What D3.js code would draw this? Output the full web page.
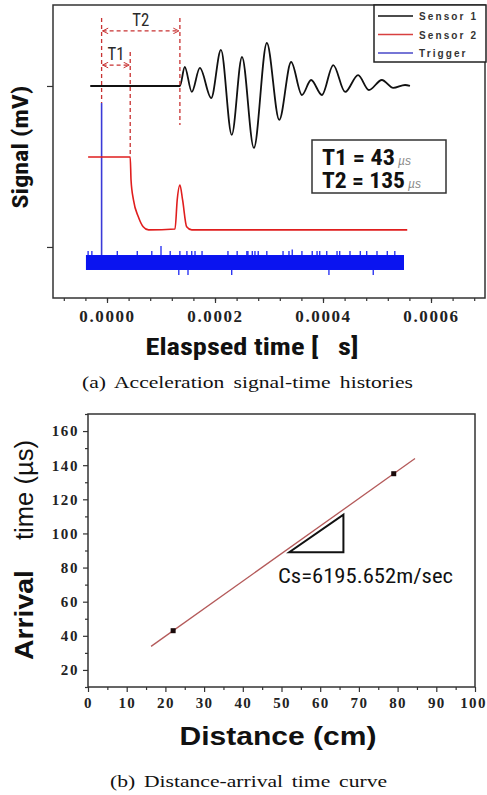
<!DOCTYPE html>
<html>
<head>
<meta charset="utf-8">
<script src="https://cdn.jsdelivr.net/npm/d3@7"></script>
<style>
  body { margin: 0; background: #fff; }
  svg { display: block; }
</style>
</head>
<body>
<div id="chart"></div>
<script>
// ---- (a) signal-time histories, time in µs, signal in plot units (ticks at 0 and 100) ----
var sensor1_t = [-31, 135, 144, 157, 172, 193, 211, 231, 250, 272, 296, 319, 341, 361, 378, 398, 419, 441, 465, 485, 509, 530, 552, 561];
var sensor1_v = [100, 100, 111.8, 96.3, 111.2, 92.5, 122.4, 69.6, 118, 61.5, 126.7, 78.9, 114.9, 94.4, 103.7, 94.4, 113, 96.3, 106.8, 97.5, 103.7, 98.8, 100.6, 100];

var sensor2_t = [-35, 43, 44.5, 49, 58, 67, 77, 126, 130, 135, 140, 147.5, 157, 556];
var sensor2_v = [55.9, 55.9, 41.6, 29.2, 18.8, 12.6, 10.6, 11.2, 29.2, 38.5, 29.2, 12.6, 10.6, 10.6];

var trigger_time = -10;
var trigger_peak = 89.4;
var trigger_band_t = [-39, 550];
var trigger_band_v = [-5, -14.3];
var trigger_up_t = [-35, -28, 19, 56, 83, 100, 117, 135, 148, 157, 163, 176, 224, 241, 259, 261, 269, 274, 280, 296, 326, 337, 343, 361, 380, 389, 394, 407, 426, 431, 450, 469, 481, 500, 519, 533];
var trigger_up_v = [-2.5, -2.5, -2.5, -2.5, -2.5, 0.6, -2.5, -2.5, -2.5, -2.5, -2.5, -2.5, -2.5, -2.5, -2.5, -2.5, -2.5, -2.5, -2.5, -2.5, -2.5, -2.5, -1.5, -2.5, -2.5, -2.5, -2.5, -2.5, -2.5, -2.5, -2.5, -2.5, -2.5, -2.5, -2.5, -2.5];
var trigger_down_t = [133, 150, 231, 411, 493];
var trigger_down_v = [-17.4, -17.4, -17.4, -17.4, -17.4];

var time_ticks = [0, 200, 400, 600];
var time_minor = d3.range(-80, 700, 40);
var signal_ticks = [0, 100];

var legend_names = ["Sensor 1", "Sensor 2", "Trigger"];
var legend_colors = ["#111111", "#d84040", "#4848c8"];

// ---- (b) distance-arrival time ----
var distance = [22, 79];
var arrival = [43, 135];
var fit_range = [16.3, 84.5];
var dist_ticks = d3.range(0, 101, 10);
var dist_minor = d3.range(5, 100, 10);
var arr_ticks = d3.range(20, 161, 20);
var arr_minor = d3.range(10, 171, 20);

var narrow = "'Liberation Sans Narrow', 'Arial Narrow', 'Roboto Condensed', 'Liberation Sans', Arial, sans-serif";
var serif = "'Liberation Serif', 'Times New Roman', serif";

var width = 487, height = 795;
var svg = d3.select("#chart").append("svg")
  .attr("width", width)
  .attr("height", height)
  .style("font-family", "'Liberation Sans', Arial, sans-serif");

var defs = svg.append("defs");
defs.append("marker")
  .attr("id", "chev")
  .attr("viewBox", "0 0 10 10")
  .attr("refX", 9).attr("refY", 5)
  .attr("markerWidth", 7).attr("markerHeight", 7)
  .attr("markerUnits", "userSpaceOnUse")
  .attr("orient", "auto-start-reverse")
  .append("path")
    .attr("d", "M1,1 L9,5 L1,9")
    .attr("fill", "none")
    .attr("stroke", "#c83232")
    .attr("stroke-width", 1.4);

// caption in a wide serif: stretch glyphs, then spread words to the scanned width
function caption(txt, cx, y, target){
  var sx = 1.27;
  var t = svg.append("g")
    .attr("transform", "translate(" + cx + "," + y + ") scale(" + sx + ",1)")
    .append("text")
      .attr("text-anchor", "middle")
      .attr("fill", "#111")
      .style("font-family", serif)
      .style("font-size", "17px")
      .text(txt);
  var natural = t.node().getComputedTextLength();
  var gaps = txt.split(" ").length - 1;
  t.style("word-spacing", ((target / sx - natural) / gaps) + "px");
}

// ======================= chart (a) =======================
var xa = d3.scaleLinear().domain([-100, 700]).range([53, 485]);
var ya = d3.scaleLinear().domain([-31.7, 150.3]).range([298, 5]);

var ga = svg.append("g");

ga.append("g")
  .attr("transform", "translate(0,298)")
  .call(d3.axisBottom(xa).tickValues(time_minor).tickSize(3).tickFormat(""))
  .call(function(g){ g.select(".domain").remove(); g.selectAll("line").attr("stroke", "#333").attr("stroke-width", 1.2); });

var xa_axis = ga.append("g")
  .attr("transform", "translate(0,298)")
  .call(d3.axisBottom(xa).tickValues(time_ticks).tickSize(5)
    .tickFormat(function(d){ return (d * 1e-6).toFixed(4); }));
xa_axis.select(".domain").remove();
xa_axis.selectAll("line").attr("stroke", "#333").attr("stroke-width", 1.2);
xa_axis.selectAll("text")
  .attr("y", 24).attr("dy", null)
  .attr("fill", "#222")
  .style("font-family", serif)
  .style("font-weight", "bold")
  .style("font-size", "17px")
  .style("letter-spacing", "1.6px");

var ya_axis = ga.append("g")
  .attr("transform", "translate(53,0)")
  .call(d3.axisLeft(ya).tickValues(signal_ticks).tickSize(6).tickFormat(""));
ya_axis.select(".domain").remove();
ya_axis.selectAll("line").attr("stroke", "#333").attr("stroke-width", 1.2);

// trigger (blue)
ga.append("rect")
  .attr("x", xa(trigger_band_t[0]))
  .attr("y", ya(trigger_band_v[0]))
  .attr("width", xa(trigger_band_t[1]) - xa(trigger_band_t[0]))
  .attr("height", ya(trigger_band_v[1]) - ya(trigger_band_v[0]))
  .attr("fill", "#0a14f0");
ga.append("g").selectAll("line")
  .data(d3.zip(trigger_up_t, trigger_up_v))
  .join("line")
    .attr("x1", function(d){ return xa(d[0]); })
    .attr("x2", function(d){ return xa(d[0]); })
    .attr("y1", ya(trigger_band_v[0]))
    .attr("y2", function(d){ return ya(d[1]); })
    .attr("stroke", "#0a14f0").attr("stroke-width", 1.2);
ga.append("g").selectAll("line")
  .data(d3.zip(trigger_down_t, trigger_down_v))
  .join("line")
    .attr("x1", function(d){ return xa(d[0]); })
    .attr("x2", function(d){ return xa(d[0]); })
    .attr("y1", ya(trigger_band_v[1]))
    .attr("y2", function(d){ return ya(d[1]); })
    .attr("stroke", "#0a14f0").attr("stroke-width", 1.2);
ga.append("line")
  .attr("x1", xa(trigger_time)).attr("x2", xa(trigger_time))
  .attr("y1", ya(trigger_band_v[0])).attr("y2", ya(trigger_peak))
  .attr("stroke", "#3a3ad8").attr("stroke-width", 1.6);

var line_a = d3.line()
  .x(function(d){ return xa(d[0]); })
  .y(function(d){ return ya(d[1]); })
  .curve(d3.curveMonotoneX);

ga.append("path")
  .datum(d3.zip(sensor2_t, sensor2_v))
  .attr("d", line_a)
  .attr("fill", "none")
  .attr("stroke", "#e01e1e")
  .attr("stroke-width", 1.6);

ga.append("path")
  .datum(d3.zip(sensor1_t, sensor1_v))
  .attr("d", line_a)
  .attr("fill", "none")
  .attr("stroke", "#111")
  .attr("stroke-width", 1.8);

// T1 / T2 annotation
var dash = "4,3";
var marks = [[trigger_time, 142.2, 89.4], [43, 121.1, 55.9], [135, 142.2, 75.8]];
ga.append("g").selectAll("line")
  .data(marks)
  .join("line")
    .attr("x1", function(d){ return xa(d[0]); })
    .attr("x2", function(d){ return xa(d[0]); })
    .attr("y1", function(d){ return ya(d[1]); })
    .attr("y2", function(d){ return ya(d[2]); })
    .attr("stroke", "#c83232").attr("stroke-width", 1.3)
    .attr("stroke-dasharray", dash);

var arrows = [["T2", trigger_time, 135, 134.2], ["T1", trigger_time, 43, 113]];
arrows.forEach(function(a){
  ga.append("line")
    .attr("x1", xa(a[1]) + 1).attr("x2", xa(a[2]) - 1)
    .attr("y1", ya(a[3])).attr("y2", ya(a[3]))
    .attr("stroke", "#c83232").attr("stroke-width", 1.3)
    .attr("stroke-dasharray", dash)
    .attr("marker-start", "url(#chev)")
    .attr("marker-end", "url(#chev)");
  ga.append("text")
    .attr("x", xa((a[1] + a[2]) / 2))
    .attr("y", ya(a[3]) - 5)
    .attr("text-anchor", "middle")
    .attr("textLength", 17).attr("lengthAdjust", "spacingAndGlyphs")
    .attr("fill", "#2a2a2a")
    .style("font-family", narrow)
    .style("font-size", "19px")
    .text(a[0]);
});

// frame
ga.append("rect")
  .attr("x", 53).attr("y", 5)
  .attr("width", 485 - 53).attr("height", 298 - 5)
  .attr("fill", "none").attr("stroke", "#333").attr("stroke-width", 1.5);

// legend
var lg = ga.append("g");
lg.append("rect")
  .attr("x", 374).attr("y", 5).attr("width", 112).attr("height", 57)
  .attr("fill", "#fff").attr("stroke", "#222").attr("stroke-width", 1.5);
legend_names.forEach(function(n, i){
  var yy = 16 + i * 18.5;
  lg.append("line")
    .attr("x1", 378).attr("x2", 413).attr("y1", yy).attr("y2", yy)
    .attr("stroke", legend_colors[i]).attr("stroke-width", 1.5);
  lg.append("text")
    .attr("x", 419).attr("y", yy + 4)
    .attr("fill", "#333")
    .style("font-size", "10px")
    .style("font-weight", "bold")
    .style("letter-spacing", "2.1px")
    .text(n);
});

// T box
var tb = ga.append("g");
tb.append("rect")
  .attr("x", 312).attr("y", 140).attr("width", 134).attr("height", 53)
  .attr("fill", "#fff").attr("stroke", "#333").attr("stroke-width", 1.5);
[["T1 = 43", 165, 73], ["T2 = 135", 188, 83]].forEach(function(r){
  tb.append("text")
    .attr("x", 322).attr("y", r[1])
    .attr("textLength", r[2]).attr("lengthAdjust", "spacingAndGlyphs")
    .attr("fill", "#111")
    .style("font-family", narrow)
    .style("font-size", "22px")
    .style("font-weight", "bold")
    .text(r[0]);
  tb.append("text")
    .attr("x", 322 + r[2] + 3).attr("y", r[1])
    .attr("fill", "#8a8a8a")
    .style("font-size", "12px")
    .style("font-style", "italic")
    .text("µs");
});

// axis titles (a)
ga.append("text")
  .attr("x", 252).attr("y", 355)
  .attr("text-anchor", "middle")
  .attr("textLength", 213).attr("lengthAdjust", "spacingAndGlyphs")
  .attr("fill", "#111")
  .style("white-space", "pre")
  .style("font-family", narrow)
  .style("font-size", "23px")
  .style("font-weight", "bold")
  .text("Elaspsed time [   s]");

ga.append("text")
  .attr("transform", "translate(28,147) rotate(-90)")
  .attr("text-anchor", "middle")
  .attr("textLength", 123).attr("lengthAdjust", "spacingAndGlyphs")
  .attr("fill", "#111")
  .style("font-family", narrow)
  .style("font-size", "22px")
  .style("font-weight", "bold")
  .text("Signal (mV)");

caption("(a) Acceleration signal-time histories", 247.5, 388, 331);

// ======================= chart (b) =======================
var xb = d3.scaleLinear().domain([0, 100]).range([88, 475]);
var yb = d3.scaleLinear().domain([10, 170]).range([687, 414]);
var gb = svg.append("g");

function style_axis(g){
  g.select(".domain").remove();
  g.selectAll("line").attr("stroke", "#333").attr("stroke-width", 1.2);
}

gb.append("g")
  .attr("transform", "translate(0,687)")
  .call(d3.axisBottom(xb).tickValues(dist_minor).tickSize(3).tickFormat(""))
  .call(style_axis);
var xb_axis = gb.append("g")
  .attr("transform", "translate(0,687)")
  .call(d3.axisBottom(xb).tickValues(dist_ticks).tickSize(5).tickFormat(d3.format("d")))
  .call(style_axis);
xb_axis.selectAll("text")
  .attr("y", 21).attr("dy", null)
  .attr("x", function(d){ return d === 100 ? -2 : 0; })
  .attr("fill", "#222")
  .style("font-family", serif)
  .style("font-weight", "bold")
  .style("font-size", "15px")
  .style("letter-spacing", "1.3px");

gb.append("g")
  .attr("transform", "translate(88,0)")
  .call(d3.axisLeft(yb).tickValues(arr_minor).tickSize(3).tickFormat(""))
  .call(style_axis);
var yb_axis = gb.append("g")
  .attr("transform", "translate(88,0)")
  .call(d3.axisLeft(yb).tickValues(arr_ticks).tickSize(5).tickFormat(d3.format("d")))
  .call(style_axis);
yb_axis.selectAll("text")
  .attr("x", -9)
  .attr("fill", "#222")
  .style("font-family", serif)
  .style("font-weight", "bold")
  .style("font-size", "15px")
  .style("letter-spacing", "1.6px");

// fit line through the two measured points
var slope = (arrival[1] - arrival[0]) / (distance[1] - distance[0]);
var fit = fit_range.map(function(d){ return [d, arrival[0] + slope * (d - distance[0])]; });
gb.append("path")
  .datum(fit)
  .attr("d", d3.line().x(function(d){ return xb(d[0]); }).y(function(d){ return yb(d[1]); }))
  .attr("stroke", "#b45a5a")
  .attr("stroke-width", 1.3)
  .attr("fill", "none");

gb.selectAll(".pt")
  .data(d3.zip(distance, arrival))
  .join("rect")
    .attr("class", "pt")
    .attr("x", function(d){ return xb(d[0]) - 2.5; })
    .attr("y", function(d){ return yb(d[1]) - 2.5; })
    .attr("width", 5).attr("height", 5)
    .attr("fill", "#1a0a0a");

// slope triangle
var tri = [[52, 89], [66, 89], [66, 111]];
gb.append("path")
  .attr("d", "M" + tri.map(function(d){ return xb(d[0]) + "," + yb(d[1]); }).join("L") + "Z")
  .attr("fill", "none")
  .attr("stroke", "#111")
  .attr("stroke-width", 2);

gb.append("text")
  .attr("x", 278).attr("y", 583)
  .attr("textLength", 175).attr("lengthAdjust", "spacingAndGlyphs")
  .attr("fill", "#111")
  .style("font-family", narrow)
  .style("font-size", "21px")
  .text("Cs=6195.652m/sec");

gb.append("rect")
  .attr("x", 88).attr("y", 414)
  .attr("width", 475 - 88).attr("height", 687 - 414)
  .attr("fill", "none").attr("stroke", "#333").attr("stroke-width", 1.5);

gb.append("text")
  .attr("x", 278).attr("y", 745)
  .attr("text-anchor", "middle")
  .attr("textLength", 197).attr("lengthAdjust", "spacingAndGlyphs")
  .attr("fill", "#111")
  .style("font-size", "25px")
  .style("font-weight", "bold")
  .text("Distance (cm)");

gb.append("text")
  .attr("transform", "translate(33,660) rotate(-90)")
  .attr("textLength", 90).attr("lengthAdjust", "spacingAndGlyphs")
  .attr("fill", "#111")
  .style("font-size", "25px")
  .style("font-weight", "bold")
  .text("Arrival");
gb.append("text")
  .attr("transform", "translate(33,540) rotate(-90)")
  .attr("textLength", 100).attr("lengthAdjust", "spacingAndGlyphs")
  .attr("fill", "#111")
  .style("font-size", "25px")
  .text("time (µs)");

caption("(b) Distance-arrival time curve", 248.5, 787, 277);
</script>
</body>
</html>
